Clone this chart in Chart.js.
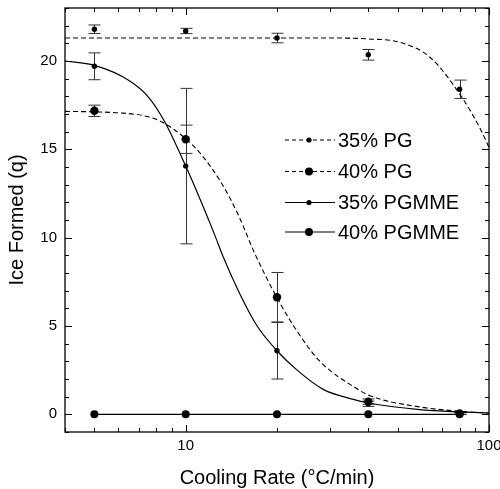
<!DOCTYPE html>
<html>
<head>
<meta charset="utf-8">
<script src="https://cdn.jsdelivr.net/npm/chart.js@4.4.1/dist/chart.umd.min.js"></script>
<style>
  html, body { margin: 0; padding: 0; background: #fff; }
  #wrap { width: 500px; height: 489px; }
</style>
</head>
<body>
<div id="wrap"><canvas id="iceChart" width="500" height="489"></canvas></div>
<script>
// cooling rates (°C/min)
const rates = [5, 10, 20, 40, 80];

// measured ice formed (q) and error bars
const pg35 = [21.8, 21.7, 21.3, 20.35, 18.4];
const pg35Err = [0.24, 0.15, 0.27, 0.3, 0.52];
const pg40 = [17.18, 15.57, 6.63, 0.72, 0.05];
const pg40Err = [0.32, 0.8, 1.4, 0.15, 0.05];
const pgmme35 = [19.7, 14.05, 3.6, 0.6, 0.05];
const pgmme35Err = [0.76, 4.4, 1.6, 0.15, 0.05];
const pgmme40 = [0, 0, 0, 0, 0];

// fitted curves
const pg35FitX = [4, 10, 20, 30, 40, 51, 64, 81, 94, 100];
const pg35FitY = [21.3, 21.3, 21.3, 21.3, 21.25, 21.05, 20.2, 18.0, 16.1, 15.1];
const pg40FitX = [4, 5, 6.2, 7.45, 8.45, 10, 11.2, 13, 14.9, 16.9, 20, 23.3, 27.7, 36.6, 40.5, 59, 86.6, 100];
const pg40FitY = [17.15, 17.12, 17.05, 16.86, 16.5, 15.6, 14.75, 13.2, 11.3, 9.1, 6.6, 4.7, 3.0, 1.46, 1.05, 0.42, 0.13, 0.07];
const pgmme35FitX = [4, 5, 6.5, 7.5, 8.5, 10, 11.2, 12.5, 13.3, 15.1, 17.2, 20, 23.3, 28.5, 35.7, 40, 59, 100];
const pgmme35FitY = [20.0, 19.75, 18.9, 18.0, 16.6, 14.05, 12.1, 10.1, 8.9, 6.8, 5.0, 3.6, 2.5, 1.4, 0.85, 0.64, 0.27, 0.07];

// axis ticks
const xMajor = [10, 100];
const xMinor = [4, 5, 6, 7, 8, 9, 20, 30, 40, 50, 60, 70, 80, 90];
const yMajor = [0, 5, 10, 15, 20];

const FONT = '"Liberation Sans", Arial, Helvetica, sans-serif';

function pts(xs, ys) {
  return xs.map((x, i) => ({ x: x, y: ys[i] }));
}

const errorSets = [
  { y: pg35, err: pg35Err },
  { y: pg40, err: pg40Err },
  { y: pgmme35, err: pgmme35Err }
];

// legend: label, dashed?, marker radius
const legendItems = [
  { label: '35% PG', dash: [4, 3], r: 2.6 },
  { label: '40% PG', dash: [4, 3], r: 4 },
  { label: '35% PGMME', dash: [], r: 2.6 },
  { label: '40% PGMME', dash: [], r: 4 }
];

// error bars under the markers
const errorBars = {
  id: 'errorBars',
  beforeDatasetsDraw(chart) {
    const c = chart.ctx, xs = chart.scales.x, ys = chart.scales.y;
    c.save();
    c.strokeStyle = '#333';
    c.lineWidth = 1;
    errorSets.forEach(s => {
      rates.forEach((r, i) => {
        const px = Math.round(xs.getPixelForValue(r)) + 0.5;
        const top = ys.getPixelForValue(s.y[i] + s.err[i]);
        const bot = ys.getPixelForValue(s.y[i] - s.err[i]);
        c.beginPath();
        c.moveTo(px, top); c.lineTo(px, bot);
        c.moveTo(px - 6, top); c.lineTo(px + 6, top);
        c.moveTo(px - 6, bot); c.lineTo(px + 6, bot);
        c.stroke();
      });
    });
    c.restore();
  }
};

// frame, inside ticks, labels, titles and legend
const frame = {
  id: 'frame',
  afterDraw(chart) {
    const c = chart.ctx, a = chart.chartArea;
    const xs = chart.scales.x, ys = chart.scales.y;
    c.save();
    c.strokeStyle = '#000';
    c.lineWidth = 1.3;
    c.strokeRect(a.left, a.top, a.right - a.left, a.bottom - a.top);

    c.lineWidth = 1;
    c.beginPath();
    xMajor.concat(xMinor).forEach(v => {
      const len = xMajor.includes(v) ? 7 : 4;
      const px = Math.round(xs.getPixelForValue(v)) + 0.5;
      c.moveTo(px, a.bottom); c.lineTo(px, a.bottom - len);
      c.moveTo(px, a.top); c.lineTo(px, a.top + len);
    });
    for (let v = -1; v <= 23; v++) {
      const len = yMajor.includes(v) ? 7 : 4;
      const py = Math.round(ys.getPixelForValue(v)) + 0.5;
      c.moveTo(a.left, py); c.lineTo(a.left + len, py);
      c.moveTo(a.right, py); c.lineTo(a.right - len, py);
    }
    c.stroke();

    c.fillStyle = '#000';
    c.font = '15px ' + FONT;
    c.textAlign = 'right';
    c.textBaseline = 'middle';
    yMajor.forEach(v => c.fillText(String(v), a.left - 8, ys.getPixelForValue(v)));
    c.textAlign = 'center';
    xMajor.forEach(v => c.fillText(String(v), xs.getPixelForValue(v), a.bottom + 14));

    c.font = '20px ' + FONT;
    c.fillText('Cooling Rate (°C/min)', (a.left + a.right) / 2, a.bottom + 46);
    c.save();
    c.translate(17, (a.top + a.bottom) / 2);
    c.rotate(-Math.PI / 2);
    c.fillText('Ice Formed (q)', 0, 0);
    c.restore();

    // legend
    const rowY = [140, 171.5, 202.5, 232];
    legendItems.forEach((it, i) => {
      const y = rowY[i];
      c.setLineDash(it.dash);
      c.lineWidth = 1.1;
      c.beginPath();
      c.moveTo(285, y); c.lineTo(335, y);
      c.stroke();
      c.setLineDash([]);
      c.beginPath();
      c.arc(309, y, it.r, 0, Math.PI * 2);
      c.fill();
      c.textAlign = 'left';
      c.fillText(it.label, 338, y + 1);
    });
    c.restore();
  }
};

const ctx = document.getElementById('iceChart').getContext('2d');
new Chart(ctx, {
  type: 'scatter',
  data: {
    datasets: [
      { data: pts(pg35FitX, pg35FitY), showLine: true, borderColor: '#000', borderWidth: 1.1, borderDash: [5, 3], pointRadius: 0, cubicInterpolationMode: 'monotone' },
      { data: pts(pg40FitX, pg40FitY), showLine: true, borderColor: '#000', borderWidth: 1.1, borderDash: [5, 3], pointRadius: 0, cubicInterpolationMode: 'monotone' },
      { data: pts(pgmme35FitX, pgmme35FitY), showLine: true, borderColor: '#000', borderWidth: 1.2, pointRadius: 0, cubicInterpolationMode: 'monotone' },
      { data: pts(rates, pgmme40), showLine: true, borderColor: '#000', borderWidth: 1.2, pointRadius: 4, backgroundColor: '#000', pointBorderWidth: 0 },
      { data: pts(rates, pg35), pointRadius: 2.7, backgroundColor: '#000', borderColor: '#000', pointBorderWidth: 0 },
      { data: pts(rates, pg40), pointRadius: 4.2, backgroundColor: '#000', borderColor: '#000', pointBorderWidth: 0 },
      { data: pts(rates, pgmme35), pointRadius: 2.7, backgroundColor: '#000', borderColor: '#000', pointBorderWidth: 0 }
    ]
  },
  options: {
    responsive: false,
    animation: false,
    clip: false,
    layout: { padding: { left: 65, top: 8, right: 11, bottom: 57 } },
    plugins: { legend: { display: false }, tooltip: { enabled: false } },
    scales: {
      x: { type: 'logarithmic', min: 4, max: 100, display: false },
      y: { type: 'linear', min: -1, max: 23, display: false }
    }
  },
  plugins: [errorBars, frame]
});
</script>
</body>
</html>
